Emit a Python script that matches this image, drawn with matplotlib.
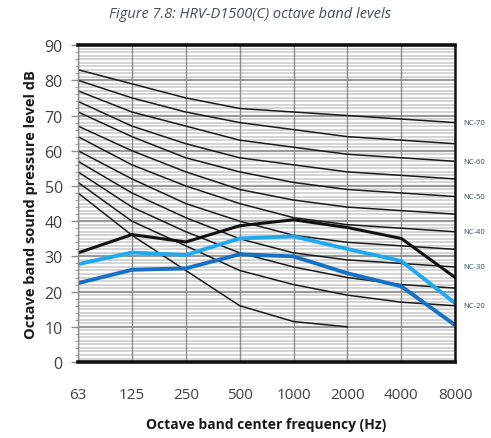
import numpy as np
import matplotlib
matplotlib.use("Agg")
import matplotlib.pyplot as plt
from matplotlib.ticker import MultipleLocator

# octave bands
bands = ["63", "125", "250", "500", "1000", "2000", "4000", "8000"]

# NC reference curves (dB per band)
nc_names = ["NC-70", "NC-65", "NC-60", "NC-55", "NC-50", "NC-45",
            "NC-40", "NC-35", "NC-30", "NC-25", "NC-20", "NC-15"]
nc_values = [
    [83, 79, 75, 72, 71, 70, 69, 68],
    [80, 75, 71, 68, 66, 64, 63, 62],
    [77, 71, 67, 63, 61, 59, 58, 57],
    [74, 67, 62, 58, 56, 54, 53, 52],
    [71, 64, 58, 54, 51, 49, 48, 47],
    [67, 60, 54, 49, 46, 44, 43, 42],
    [64, 56, 50, 45, 41, 39, 38, 37],
    [60, 52, 45, 40, 36, 34, 33, 32],
    [57, 48, 41, 35, 31, 29, 28, 27],
    [54, 44, 37, 31, 27, 24, 22, 21],
    [51, 40, 33, 26, 22, 19, 17, 16],
    [48, 36, 26, 16, 11.5, 10],
]
nc_labelled = ["NC-70", "NC-60", "NC-50", "NC-40", "NC-30", "NC-20"]

# measured unit levels
level_black = [31, 36.2, 34.1, 38.7, 40.4, 38.2, 35.1, 24]
level_light = [27.8, 31.1, 30.4, 35.1, 35.7, 32.1, 28.7, 16.7]
level_dark = [22.4, 26.2, 26.6, 30.6, 30.0, 25.2, 21.5, 10.5]

plt.rcParams["font.family"] = ["Open Sans", "DejaVu Sans"]

fig = plt.figure(figsize=(4.91, 4.39), dpi=100)
ax = fig.add_axes([0.159, 0.173, 0.768, 0.722])

x = np.arange(len(bands))

# grid: fine 1 dB lines, heavier every 10 dB
for v in range(1, 90):
    if v % 10 == 0:
        ax.axhline(v, color="#9a9a9a", lw=1.6, zorder=1)
    else:
        ax.axhline(v, color="#d4d4d4", lw=1.4, zorder=1)
for xi in x:
    ax.axvline(xi, color="#8c8c8c", lw=1.0, zorder=1)

for name, vals in zip(nc_names, nc_values):
    ax.plot(x[:len(vals)], vals, color="#1a1a1a", lw=1.1, zorder=3)
    if name in nc_labelled:
        ax.text(7.15, vals[-1], name, fontsize=5.5, color="#2b4a5a",
                va="center", ha="left", clip_on=False)

ax.plot(x, level_black, color="#111111", lw=2.2, zorder=4)
ax.plot(x, level_light, color="#21a9ee", lw=2.8, zorder=5)
ax.plot(x, level_dark, color="#1670c4", lw=2.8, zorder=5)

ax.set_xlim(0, 7)
ax.set_ylim(0, 90)
ax.set_xticks(x)
ax.set_xticklabels(bands, fontsize=11, color="#404040")
ax.yaxis.set_major_locator(MultipleLocator(10))
ax.yaxis.set_minor_locator(MultipleLocator(2))
ax.tick_params(axis="y", labelsize=11.5, colors="#404040", length=5,
               width=1, color="#8c8c8c", pad=6)
ax.tick_params(axis="y", which="minor", length=2, color="#8c8c8c")
ax.tick_params(axis="x", length=0, pad=18)

for side in ["top", "bottom"]:
    ax.spines[side].set_linewidth(2.6)
    ax.spines[side].set_color("#111111")
ax.spines["right"].set_linewidth(1.8)
ax.spines["right"].set_color("#111111")
ax.spines["left"].set_color("#8c8c8c")
ax.spines["left"].set_linewidth(1.0)
for s in ax.spines.values():
    s.set_zorder(6)

ax.set_xlabel("Octave band center frequency (Hz)", fontsize=10,
              fontweight="bold", color="#1a1a1a", labelpad=11)
ax.set_ylabel("Octave band sound pressure level dB", fontsize=10.5,
              fontweight="bold", color="#1a1a1a", labelpad=5)

fig.text(0.51, 0.968, "Figure 7.8: HRV-D1500(C) octave band levels",
         fontsize=10.5, style="italic", color="#3f4f63", ha="center", va="center")

fig.savefig("out.png", dpi=100)
